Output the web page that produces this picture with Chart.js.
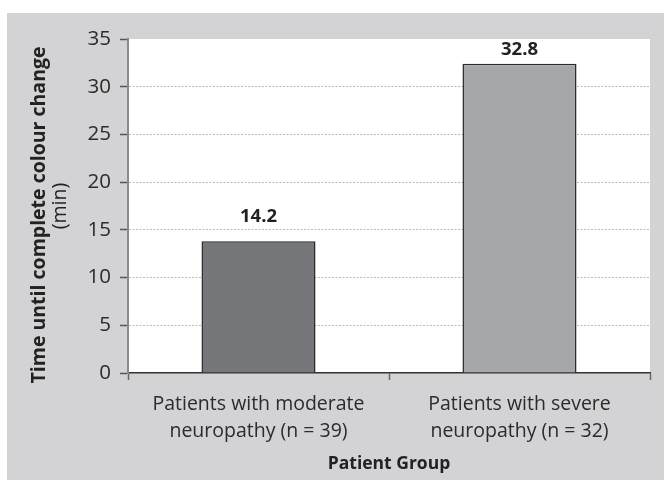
<!DOCTYPE html>
<html lang="en">
<head>
    <meta charset="UTF-8">
    <title>Time until complete colour change</title>
    <script src="https://cdn.jsdelivr.net/npm/chart.js"></script>
    <style>
        body {
            margin: 0;
            background: #fff;
        }
        .chart-box {
            width: 664px;
            height: 480px;
        }
    </style>
</head>
<body>
    <div class="chart-box">
        <canvas id="barChart"></canvas>
    </div>

    <script>
        // Data
        const groups = [
            ['Patients with moderate', 'neuropathy (n = 39)'],
            ['Patients with severe', 'neuropathy (n = 32)']
        ];
        const barValues = [13.8, 32.4];
        const valueLabels = ['14.2', '32.8'];
        const yTicks = [0, 5, 10, 15, 20, 25, 30, 35];

        const yTitle = 'Time until complete colour change';
        const yUnit = '(min)';
        const xTitle = 'Patient Group';

        const barColors = ['#76777b', '#a6a7aa'];
        const labelGap = [25, 14]; // px between bar top and value label centre
        const panelGray = '#d3d3d5';
        const fontFamily = '"Open Sans", "DejaVu Sans", sans-serif';

        Chart.defaults.font.family = fontFamily;
        Chart.defaults.color = '#2b2b2b';

        // gray panel with a white plot area
        const backgroundPlugin = {
            id: 'panelBackground',
            beforeDraw(chart) {
                const { ctx, chartArea: a, width, height } = chart;
                ctx.save();
                ctx.fillStyle = '#fff';
                ctx.fillRect(0, 0, width, height);
                ctx.fillStyle = panelGray;
                ctx.fillRect(7, 13, width - 7, height - 13);
                ctx.fillStyle = '#fff';
                ctx.fillRect(a.left, a.top, a.right - a.left, a.bottom - a.top);
                ctx.restore();
            }
        };

        // numbers above the bars
        const valueLabelPlugin = {
            id: 'valueLabels',
            afterDatasetsDraw(chart) {
                const ctx = chart.ctx;
                const meta = chart.getDatasetMeta(0);
                ctx.save();
                ctx.font = 'bold 18.5px ' + fontFamily;
                ctx.fillStyle = '#222';
                ctx.textAlign = 'center';
                ctx.textBaseline = 'middle';
                meta.data.forEach((bar, i) => {
                    ctx.fillText(valueLabels[i], bar.x, bar.y - labelGap[i]);
                });
                ctx.restore();
            }
        };

        // two-line y title: bold text + regular unit
        const yTitlePlugin = {
            id: 'yTitle',
            afterDraw(chart) {
                const { ctx, chartArea: a } = chart;
                const midY = (a.top + a.bottom) / 2;
                ctx.save();
                ctx.fillStyle = '#222';
                ctx.textAlign = 'center';
                ctx.textBaseline = 'middle';

                ctx.save();
                ctx.translate(39, midY + 9);
                ctx.rotate(-Math.PI / 2);
                ctx.font = 'bold 19.5px ' + fontFamily;
                ctx.fillText(yTitle, 0, 0);
                ctx.restore();

                ctx.save();
                ctx.translate(60, midY);
                ctx.rotate(-Math.PI / 2);
                ctx.font = '19.5px ' + fontFamily;
                ctx.fillText(yUnit, 0, 0);
                ctx.restore();

                ctx.restore();
            }
        };

        const ctxBar = document.getElementById('barChart').getContext('2d');

        const barChart = new Chart(ctxBar, {
            type: 'bar',
            data: {
                labels: groups,
                datasets: [{
                    data: barValues,
                    backgroundColor: barColors,
                    borderColor: '#2a2a2a',
                    borderWidth: 1.5,
                    categoryPercentage: 1,
                    barPercentage: 0.437,
                }],
            },
            options: {
                responsive: true,
                maintainAspectRatio: false,
                animation: false,
                layout: {
                    padding: { top: 39, right: 14, left: 0, bottom: 0 },
                },
                plugins: {
                    legend: { display: false },
                    tooltip: { enabled: false },
                },
                scales: {
                    x: {
                        afterFit: (scale) => { scale.height = 107; },
                        grid: {
                            offset: true,
                            drawOnChartArea: false,
                            tickLength: 7,
                            tickColor: '#666',
                            tickWidth: 1.5,
                        },
                        border: {
                            color: '#333',
                            width: 1.5,
                        },
                        ticks: {
                            padding: 11,
                            color: '#2b2b2b',
                            font: { size: 19.5, lineHeight: 1.38 },
                        },
                        title: {
                            display: true,
                            text: xTitle,
                            color: '#222',
                            font: { size: 17.5, weight: 'bold' },
                            padding: { top: 0, bottom: 5 },
                        },
                    },
                    y: {
                        min: 0,
                        max: 35,
                        afterFit: (scale) => { scale.width = 128; },
                        afterBuildTicks: (scale) => {
                            scale.ticks = yTicks.map(v => ({ value: v }));
                        },
                        grid: {
                            color: (c) => (c.tick && (c.tick.value === 0 || c.tick.value === 35)) ? 'rgba(0,0,0,0)' : '#bcbcbc',
                            lineWidth: 1,
                            tickLength: 8,
                            tickColor: '#555',
                            tickWidth: 1.5,
                            tickBorderDash: [],
                        },
                        border: {
                            color: '#8a8a8a',
                            width: 2,
                            dash: [2, 1.5],
                        },
                        ticks: {
                            padding: 9,
                            color: '#2b2b2b',
                            font: { size: 20.5 },
                        },
                    },
                },
            },
            plugins: [backgroundPlugin, valueLabelPlugin, yTitlePlugin],
        });
    </script>
</body>
</html>
